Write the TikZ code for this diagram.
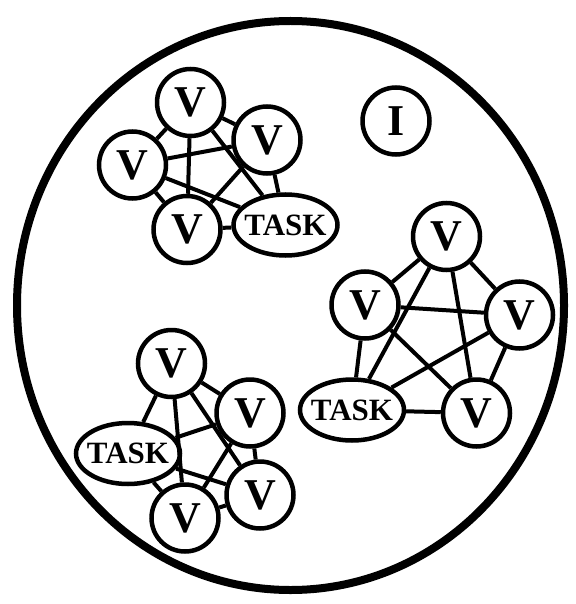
\documentclass[tikz,border=0pt]{standalone}
\usepackage{fontspec}
\setmainfont{Liberation Serif}
\usetikzlibrary{shapes.geometric}

\begin{document}
\begin{tikzpicture}[x=1pt, y=-1pt,
    vnode/.style={draw, circle, line width=4.5pt, minimum size=67pt, inner sep=0pt,
                  font=\fontsize{44}{44}\selectfont\bfseries},
    task/.style={draw, ellipse, line width=4.5pt, minimum width=104pt,
                 minimum height=61pt, inner sep=0pt,
                 font=\fontsize{31}{31}\selectfont\bfseries},
    link/.style={line width=4pt},
]
\useasboundingbox (0,0) rectangle (575,604);
\node[draw, ellipse, line width=8pt, minimum width=547pt, minimum height=569pt]
   (world) at (290.5,305.5) {};
\node[vnode] (idle) at (396,121) {I};
% upper left group
\node[vnode] (a1) at (190.5,102.5) {V};
\node[vnode] (a2) at (132.5,165) {V};
\node[vnode] (a3) at (267,140) {V};
\node[vnode] (a4) at (187,229.5) {V};
\node[task]  (ta) at (285.5,225) {\makebox[0pt]{TASK}};
% right group
\node[vnode] (b1) at (446.5,236.5) {V};
\node[vnode] (b2) at (365,305) {V};
\node[vnode] (b3) at (519.5,315) {V};
\node[vnode] (b4) at (476.5,413) {V};
\node[task]  (tb) at (352,410) {\makebox[0pt]{TASK}};
% lower left group
\node[vnode] (c1) at (171.5,363.5) {V};
\node[vnode] (c2) at (250,413) {V};
\node[vnode] (c3) at (260,495) {V};
\node[vnode] (c4) at (185,518) {V};
\node[task]  (tc) at (128,453.5) {\makebox[0pt]{TASK}};
\foreach \g/\t in {a/ta, b/tb, c/tc}{
  \foreach \u/\w in {1/2, 1/3, 1/4, 2/3, 2/4, 3/4}
    \draw[link] (\g\u) -- (\g\w);
  \foreach \u in {1,...,4}
    \draw[link] (\g\u) -- (\t);
}
\end{tikzpicture}
\end{document}
